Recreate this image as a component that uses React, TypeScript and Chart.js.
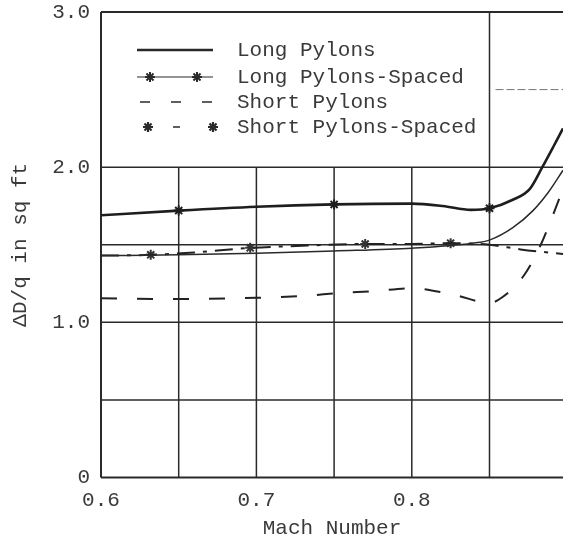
import React, { useEffect, useRef } from 'react';
import { Chart, registerables } from 'chart.js';

Chart.register(...registerables);

// ---- data ----
const X_MIN = 0.6;
const X_MAX = 0.8973;
const Y_MIN = 0;
const Y_MAX = 3.0;

const xTickLabels = [0.6, 0.7, 0.8];
const yTickLabels = [0, 1, 2, 3];

const longX = [0.6, 0.65, 0.7, 0.75, 0.8, 0.82, 0.838, 0.85, 0.865, 0.876, 0.884, 0.891, 0.8973];
const longY = [1.69, 1.72, 1.745, 1.76, 1.765, 1.75, 1.725, 1.735, 1.79, 1.86, 2.0, 2.13, 2.25];
const longMarkX = [0.65, 0.75, 0.85];
const longMarkY = [1.72, 1.76, 1.735];

const longSpX = [0.6, 0.65, 0.7, 0.75, 0.8, 0.839, 0.85, 0.865, 0.878, 0.888, 0.8973];
const longSpY = [1.43, 1.435, 1.445, 1.46, 1.478, 1.51, 1.53, 1.61, 1.72, 1.84, 1.98];

const shortX = [0.6, 0.65, 0.7, 0.73, 0.755, 0.775, 0.8, 0.828, 0.85, 0.858, 0.872, 0.883, 0.89, 0.8973];
const shortY = [1.155, 1.15, 1.158, 1.17, 1.19, 1.2, 1.22, 1.175, 1.125, 1.16, 1.3, 1.5, 1.67, 1.86];

const shortSpX = [0.6, 0.632, 0.66, 0.696, 0.72, 0.77, 0.8, 0.825, 0.85, 0.87, 0.8973];
const shortSpY = [1.43, 1.435, 1.45, 1.48, 1.49, 1.505, 1.505, 1.51, 1.5, 1.47, 1.44];
const shortSpMarkX = [0.632, 0.696, 0.77, 0.825];
const shortSpMarkY = [1.435, 1.48, 1.505, 1.51];

const legendLabels = ['Long Pylons', 'Long Pylons-Spaced', 'Short Pylons', 'Short Pylons-Spaced'];

const xTitle = 'Mach Number';
const yTitle = '\u0394D/q in sq ft';

const yGridFull = [0, 0.5, 1.0, 1.5, 2.0, 3.0];
const xGridShort = [0.65, 0.7, 0.75, 0.8];
const xGridTall = [0.85];
const yGridPartial = 2.5;

const FONT = "'Liberation Mono', 'DejaVu Sans Mono', monospace";
const INK = '#2a2a2a';
const TEXT = '#3a3a3a';

const pts = (xs: number[], ys: number[]) => xs.map((x, i) => ({ x, y: ys[i] }));

function drawStar(ctx: CanvasRenderingContext2D, x: number, y: number, r: number) {
  ctx.beginPath();
  for (let k = 0; k < 4; k++) {
    const a = (k * Math.PI) / 4;
    ctx.moveTo(x - Math.cos(a) * r, y - Math.sin(a) * r);
    ctx.lineTo(x + Math.cos(a) * r, y + Math.sin(a) * r);
  }
  ctx.stroke();
}

const gridPlugin = {
  id: 'paperGrid',
  beforeDatasetsDraw(chart: any) {
    const { ctx, chartArea: a } = chart;
    const xs = chart.scales.x;
    const ys = chart.scales.y;
    ctx.save();
    ctx.strokeStyle = INK;
    ctx.lineWidth = 1.5;
    for (const v of yGridFull) {
      const py = ys.getPixelForValue(v);
      ctx.lineWidth = v === 0 || v === 3 ? 2 : 1.5;
      ctx.beginPath();
      ctx.moveTo(a.left, py);
      ctx.lineTo(a.right, py);
      ctx.stroke();
    }
    ctx.lineWidth = 1.5;
    const y0 = ys.getPixelForValue(0);
    const y2 = ys.getPixelForValue(2);
    const y3 = ys.getPixelForValue(3);
    for (const v of xGridShort) {
      const px = xs.getPixelForValue(v);
      ctx.beginPath();
      ctx.moveTo(px, y0);
      ctx.lineTo(px, y2);
      ctx.stroke();
    }
    for (const v of xGridTall) {
      const px = xs.getPixelForValue(v);
      ctx.beginPath();
      ctx.moveTo(px, y0);
      ctx.lineTo(px, y3);
      ctx.stroke();
    }
    // left axis
    ctx.lineWidth = 2;
    ctx.beginPath();
    ctx.moveTo(a.left, y0);
    ctx.lineTo(a.left, y3);
    ctx.stroke();
    // partial 2.5 line
    ctx.lineWidth = 1;
    ctx.strokeStyle = '#777';
    ctx.setLineDash([8, 3]);
    const p25 = ys.getPixelForValue(yGridPartial);
    ctx.beginPath();
    ctx.moveTo(xs.getPixelForValue(xGridTall[0]) + 6, p25);
    ctx.lineTo(a.right, p25);
    ctx.stroke();
    ctx.restore();
  },
};

const legendPlugin = {
  id: 'paperLegend',
  afterDatasetsDraw(chart: any) {
    const { ctx, chartArea: a } = chart;
    const x0 = a.left + 36;
    const x1 = a.left + 112;
    const tx = a.left + 136;
    const rows = [a.top + 38, a.top + 65, a.top + 90, a.top + 115];
    ctx.save();
    ctx.strokeStyle = INK;
    // row 1 solid
    ctx.lineWidth = 2.5;
    ctx.beginPath();
    ctx.moveTo(x0, rows[0]);
    ctx.lineTo(x1, rows[0]);
    ctx.stroke();
    // row 2 thin with markers
    ctx.lineWidth = 1.2;
    ctx.beginPath();
    ctx.moveTo(x0, rows[1]);
    ctx.lineTo(x1, rows[1]);
    ctx.stroke();
    ctx.lineWidth = 2;
    drawStar(ctx, x0 + 13, rows[1], 5);
    drawStar(ctx, x0 + 60, rows[1], 5);
    // row 3 dashed
    ctx.lineWidth = 1.5;
    ctx.setLineDash([10, 21]);
    ctx.beginPath();
    ctx.moveTo(x0 + 3, rows[2]);
    ctx.lineTo(x1 + 2, rows[2]);
    ctx.stroke();
    // row 4 dash with markers
    ctx.setLineDash([7, 40]);
    ctx.beginPath();
    ctx.moveTo(x0 + 36, rows[3]);
    ctx.lineTo(x0 + 80, rows[3]);
    ctx.stroke();
    ctx.setLineDash([]);
    ctx.lineWidth = 2.2;
    drawStar(ctx, x0 + 11, rows[3], 5);
    drawStar(ctx, x1, rows[3], 5);
    // text
    ctx.fillStyle = TEXT;
    ctx.font = `21px ${FONT}`;
    ctx.textBaseline = 'middle';
    ctx.textAlign = 'left';
    legendLabels.forEach((t, i) => ctx.fillText(t, tx, rows[i]));
    ctx.restore();
  },
};

export default function App() {
  const ref = useRef<HTMLCanvasElement>(null);
  useEffect(() => {
    const near = (v: number, arr: number[]) => arr.some((t) => Math.abs(v - t) < 1e-6);
    const chart = new Chart(ref.current as HTMLCanvasElement, {
      type: 'line',
      data: {
        datasets: [
          {
            label: legendLabels[0],
            data: pts(longX, longY),
            borderColor: '#1e1e1e',
            borderWidth: 2.6,
            pointRadius: 0,
            cubicInterpolationMode: 'monotone',
          },
          {
            label: legendLabels[0] + ' marks',
            data: pts(longMarkX, longMarkY),
            showLine: false,
            pointStyle: 'star',
            pointRadius: 5,
            borderWidth: 2,
            borderColor: '#1e1e1e',
            backgroundColor: '#1e1e1e',
          },
          {
            label: legendLabels[1],
            data: pts(longSpX, longSpY),
            borderColor: '#2a2a2a',
            borderWidth: 1.5,
            pointRadius: 0,
            cubicInterpolationMode: 'monotone',
          },
          {
            label: legendLabels[2],
            data: pts(shortX, shortY),
            borderColor: '#222',
            borderWidth: 2,
            borderDash: [16, 20],
            pointRadius: 0,
            cubicInterpolationMode: 'monotone',
          },
          {
            label: legendLabels[3],
            data: pts(shortSpX, shortSpY),
            borderColor: '#222',
            borderWidth: 2,
            borderDash: [18, 8, 4, 8],
            pointRadius: 0,
            cubicInterpolationMode: 'monotone',
          },
          {
            label: legendLabels[3] + ' marks',
            data: pts(shortSpMarkX, shortSpMarkY),
            showLine: false,
            pointStyle: 'star',
            pointRadius: 5,
            borderWidth: 2,
            borderColor: '#333',
            backgroundColor: '#333',
          },
        ] as any,
      },
      options: {
        responsive: false,
        animation: false,
        events: [],
        layout: { autoPadding: false, padding: { top: 12, left: 0, right: 0, bottom: 0 } },
        plugins: { legend: { display: false }, tooltip: { enabled: false } },
        scales: {
          x: {
            type: 'linear',
            min: X_MIN,
            max: X_MAX,
            afterFit: (s: any) => {
              s.height = 66.5;
              s.paddingRight = 0;
              s.paddingLeft = 0;
            },
            grid: { display: false, drawTicks: false },
            border: { display: false },
            ticks: {
              stepSize: 0.05,
              autoSkip: false,
              maxRotation: 0,
              minRotation: 0,
              padding: 10,
              color: TEXT,
              font: { family: FONT, size: 21 },
              callback: (v: any) => (near(Number(v), xTickLabels) ? Number(v).toFixed(1) : ''),
            },
            title: {
              display: true,
              text: xTitle,
              color: TEXT,
              font: { family: FONT, size: 21 },
              padding: { top: 0, bottom: 3 },
            },
          },
          y: {
            type: 'linear',
            min: Y_MIN,
            max: Y_MAX,
            afterFit: (s: any) => {
              s.width = 101;
              s.paddingTop = 0;
              s.paddingBottom = 0;
            },
            grid: { display: false, drawTicks: false },
            border: { display: false },
            ticks: {
              stepSize: 0.5,
              autoSkip: false,
              padding: 11,
              color: TEXT,
              font: { family: FONT, size: 21 },
              callback: (v: any) => {
                const n = Number(v);
                if (!near(n, yTickLabels)) return '';
                return n === 0 ? '0' : n.toFixed(1);
              },
            },
            title: {
              display: true,
              text: yTitle,
              color: TEXT,
              font: { family: FONT, size: 21 },
              padding: { top: 8, bottom: 0 },
            },
          },
        },
      } as any,
      plugins: [gridPlugin, legendPlugin],
    });
    return () => chart.destroy();
  }, []);
  return (
    <canvas
      ref={ref}
      width={563}
      height={544}
      style={{ position: 'fixed', left: 0, top: 0, background: '#fff' }}
    />
  );
}
